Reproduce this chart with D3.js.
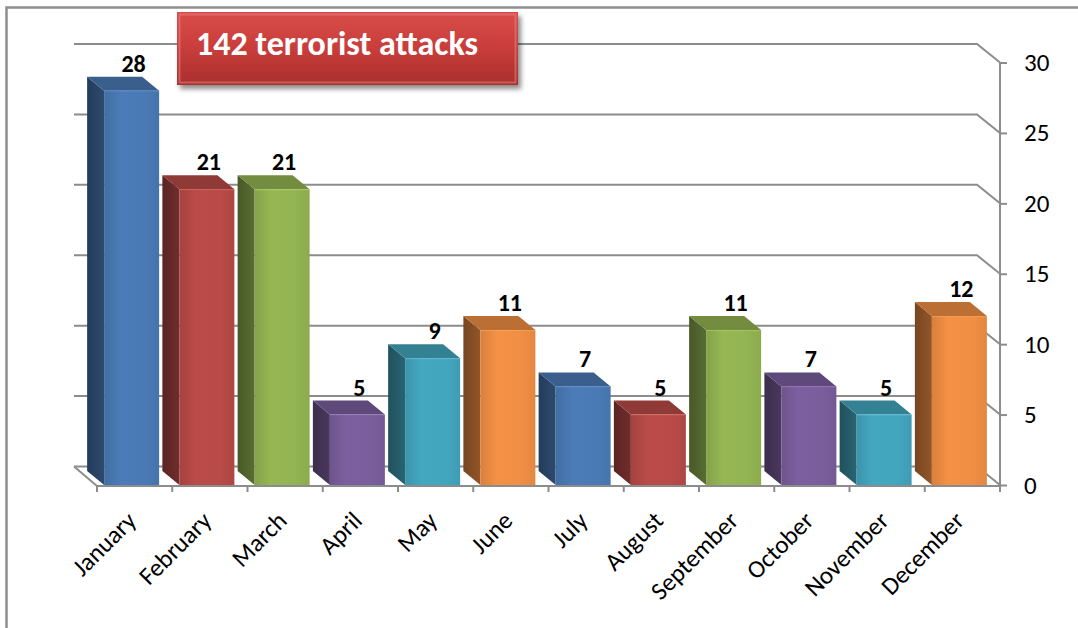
<!DOCTYPE html>
<html>
<head>
<meta charset="utf-8">
<script src="https://cdn.jsdelivr.net/npm/d3@7"></script>
<style>
  html, body { margin: 0; padding: 0; background: #fff; }
  svg { display: block; }
  text { font-family: Carlito, Calibri, Lato, "Open Sans", sans-serif; }
</style>
</head>
<body>
<svg id="chart" width="1078" height="628"></svg>
<script>
// Monthly counts of attacks
const months = ["January","February","March","April","May","June","July","August","September","October","November","December"];
const attacks = [28, 21, 21, 5, 9, 11, 7, 5, 11, 7, 5, 12];
const yTicks = [0, 5, 10, 15, 20, 25, 30];
const barColors = ["#4a7ab5","#b84a47","#93b452","#7a5d9c","#43a5be","#f08e44",
                   "#4a7ab5","#b84a47","#93b452","#7a5d9c","#43a5be","#f08e44"];
const titleText = "142 terrorist attacks";

const svg = d3.select("#chart");
const defs = svg.append("defs");

// Plot geometry: front plane plus an oblique back wall
const x = d3.scaleBand().domain(months).range([97, 1000]).padding(0);
const y = d3.scaleLinear().domain([0, 30]).range([485, 62.5]);
const wallDx = -23, wallDy = -18.5;   // offset from front plane to back wall
const barDx = -17, barDy = -14;       // depth of each bar
const barW = 55;

// Outer frame
svg.append("path")
  .attr("d", "M6.5,628 L6.5,7.5 L1078,7.5")
  .attr("fill", "none").attr("stroke", "#8f8f8f").attr("stroke-width", 2.5);

// Back wall gridlines, bent forward to the value axis
const grid = svg.append("g").attr("fill", "none").attr("stroke", "#8c8c8c").attr("stroke-width", 2);
const x0 = x.range()[0], x1 = x.range()[1];
yTicks.forEach(t => {
  const yf = y(t);
  grid.append("path")
    .attr("d", `M${x0 + wallDx},${yf + wallDy} L${x1 + wallDx},${yf + wallDy} L${x1},${yf}`);
});
// Floor: left edge and front edge
grid.append("path").attr("d", `M${x0 + wallDx},${y(0) + wallDy} L${x0},${y(0) + 1} L${x1},${y(0) + 1}`);

// Category ticks on the floor front edge
const tickXs = months.map(m => x(m)).concat([x1]);
grid.selectAll("line.ct").data(tickXs).join("line")
  .attr("x1", d => d).attr("x2", d => d)
  .attr("y1", y(0) + 1).attr("y2", y(0) + 7);

// Right value axis
const yAxis = d3.axisRight(y).tickValues(yTicks).tickSize(7).tickPadding(17);
const ya = svg.append("g").attr("transform", `translate(${x1},0)`).call(yAxis);
ya.select(".domain").attr("stroke", "#8c8c8c").attr("stroke-width", 2)
  .attr("d", `M0,${y(30)} L0,${y(0)}`);
ya.selectAll(".tick line").attr("stroke", "#8c8c8c").attr("stroke-width", 2);
ya.selectAll(".tick text").attr("font-size", 25).attr("fill", "#000")
  .style("font-family", "Carlito, Calibri, Lato, sans-serif");

// Gradients per bar colour
barColors.forEach((c, i) => {
  const base = d3.color(c);
  const g = defs.append("linearGradient").attr("id", "front" + i)
    .attr("x1", "0").attr("x2", "1").attr("y1", "0").attr("y2", "0");
  g.append("stop").attr("offset", "0").attr("stop-color", base.darker(0.3));
  g.append("stop").attr("offset", "0.3").attr("stop-color", base.brighter(0.05));
  g.append("stop").attr("offset", "0.75").attr("stop-color", base);
  g.append("stop").attr("offset", "1").attr("stop-color", base.darker(0.15));
  const s = defs.append("linearGradient").attr("id", "side" + i)
    .attr("x1", "0").attr("x2", "1").attr("y1", "0").attr("y2", "0");
  s.append("stop").attr("offset", "0").attr("stop-color", base.darker(2.0));
  s.append("stop").attr("offset", "1").attr("stop-color", base.darker(1.4));
});

// 3D bars
const bars = svg.append("g");
months.forEach((m, i) => {
  const v = attacks[i];
  const cx = x(m) + x.bandwidth() / 2 - 3;
  const L = cx - barW / 2, R = cx + barW / 2;
  const T = y(v), B = y(0);
  const g = bars.append("g");
  // left side face
  g.append("path")
    .attr("d", `M${L},${T} L${L + barDx},${T + barDy} L${L + barDx},${B + barDy} L${L},${B} Z`)
    .attr("fill", `url(#side${i})`);
  // top face
  g.append("path")
    .attr("d", `M${L},${T} L${L + barDx},${T + barDy} L${R + barDx},${T + barDy} L${R},${T} Z`)
    .attr("fill", d3.color(barColors[i]).darker(0.7));
  // front face
  g.append("rect")
    .attr("x", L).attr("y", T).attr("width", barW).attr("height", B - T)
    .attr("fill", `url(#front${i})`);
  // faint highlight along the front-top edge
  g.append("path").attr("d", `M${L},${T + 0.5} L${R},${T + 0.5}`)
    .attr("stroke", d3.color(barColors[i]).brighter(0.5)).attr("stroke-opacity", 0.5);
  // value label
  g.append("text")
    .attr("x", cx + 2).attr("y", T + barDy - 5)
    .attr("text-anchor", "middle")
    .attr("font-size", 24).attr("font-weight", "bold").attr("fill", "#000")
    .text(v);
});

// Category labels, rotated
svg.append("g").selectAll("text").data(months).join("text")
  .attr("transform", d => `translate(${x(d) + x.bandwidth() / 2 - 3},516) rotate(-45)`)
  .attr("text-anchor", "end").attr("dy", "0.35em")
  .attr("font-size", 25).attr("fill", "#000")
  .text(d => d);

// Title box
const sh = defs.append("filter").attr("id", "shadow")
  .attr("x", "-10%").attr("y", "-20%").attr("width", "130%").attr("height", "160%");
sh.append("feDropShadow").attr("dx", 3).attr("dy", 4).attr("stdDeviation", 2.5)
  .attr("flood-color", "#000").attr("flood-opacity", 0.45);
const tg = defs.append("linearGradient").attr("id", "titleFill")
  .attr("x1", 0).attr("x2", 0).attr("y1", 0).attr("y2", 1);
tg.append("stop").attr("offset", "0").attr("stop-color", "#d94c49");
tg.append("stop").attr("offset", "0.5").attr("stop-color", "#c83d3b");
tg.append("stop").attr("offset", "1").attr("stop-color", "#a92e2d");

const title = svg.append("g");
title.append("rect")
  .attr("x", 177).attr("y", 12).attr("width", 341).attr("height", 73)
  .attr("fill", "url(#titleFill)").attr("filter", "url(#shadow)");
title.append("rect")
  .attr("x", 179.5).attr("y", 14.5).attr("width", 336).attr("height", 68)
  .attr("fill", "none").attr("stroke", "#e88a87").attr("stroke-opacity", 0.5).attr("stroke-width", 2);
title.append("text")
  .attr("x", 196).attr("y", 55)
  .attr("font-size", 34).attr("font-weight", "bold").attr("fill", "#fff")
  .attr("textLength", 282).attr("lengthAdjust", "spacingAndGlyphs")
  .text(titleText);
</script>
</body>
</html>
